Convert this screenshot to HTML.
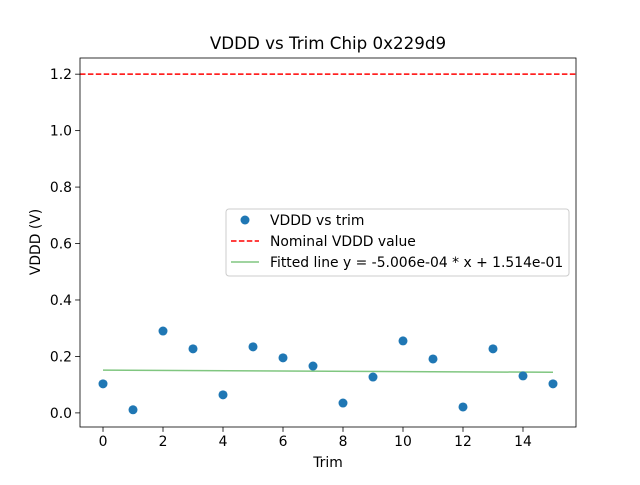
<!DOCTYPE html>
<html><head><meta charset="utf-8"><style>
body{margin:0;background:#fff}
svg text{font-family:"DejaVu Sans","Liberation Sans",sans-serif;fill:#000}
</style></head><body>
<svg id="chart" width="640" height="480"></svg>
<script>
const trims=[0,1,2,3,4,5,6,7,8,9,10,11,12,13,14,15];
const vddd=[0.103,0.011,0.290,0.227,0.064,0.234,0.195,0.166,0.035,0.127,0.255,0.191,0.021,0.227,0.131,0.103];
const nominal=1.2;
const slope=-5.006e-4, intercept=0.1514;
const xTicks=[0,2,4,6,8,10,12,14];
const yTicks=[0.0,0.2,0.4,0.6,0.8,1.0,1.2];
const L=80,R=576,T=58,B=427;
const xmin=-0.767,xmax=15.767,ymin=-0.05,ymax=1.2573;
const sx=v=>L+(v-xmin)/(xmax-xmin)*(R-L);
const sy=v=>B-(v-ymin)/(ymax-ymin)*(B-T);
const svg=document.getElementById('chart');
const NS='http://www.w3.org/2000/svg';
function mk(tag,attrs,parent){const e=document.createElementNS(NS,tag);for(const k in attrs)e.setAttribute(k,attrs[k]);(parent||svg).appendChild(e);return e;}
let t=mk('text',{x:328,y:49,'text-anchor':'middle','font-size':16.7});t.textContent='VDDD vs Trim Chip 0x229d9';


let nl=mk('line',{x1:L,x2:R,y1:sy(nominal),y2:sy(nominal),stroke:'#ff0000','stroke-width':1.5,'stroke-dasharray':'5.5,2.4'});


let fl=mk('line',{x1:sx(trims[0]),x2:sx(trims[trims.length-1]),y1:sy(intercept+slope*trims[0]),y2:sy(intercept+slope*trims[trims.length-1]),stroke:'#2ca02c','stroke-opacity':0.6,'stroke-width':1.5});


trims.forEach((x,i)=>{const c=mk('circle',{cx:sx(x),cy:sy(vddd[i]),r:4.5,fill:'#1f77b4'});

});
let fr=mk('rect',{x:L,y:T,width:R-L,height:B-T,fill:'none',stroke:'#000','stroke-width':0.8});


xTicks.forEach(v=>{mk('line',{x1:sx(v),x2:sx(v),y1:B,y2:B+4.9,stroke:'#000','stroke-width':0.8});
const tx=mk('text',{x:sx(v),y:B+19,'text-anchor':'middle','font-size':13.9});tx.textContent=v;

});
yTicks.forEach(v=>{mk('line',{x1:L-4.9,x2:L,y1:sy(v),y2:sy(v),stroke:'#000','stroke-width':0.8});
const tx=mk('text',{x:L-8,y:sy(v)+5,'text-anchor':'end','font-size':13.9});tx.textContent=v.toFixed(1);

});
let xl=mk('text',{x:328,y:467,'text-anchor':'middle','font-size':13.9});xl.textContent='Trim';


let yl=mk('text',{x:0,y:0,'text-anchor':'middle','font-size':13.9,transform:'translate(40,242) rotate(-90)'});yl.textContent='VDDD (V)';


const lg=mk('g',{});


mk('rect',{x:226,y:209,width:343,height:67,rx:3,fill:'#fff','fill-opacity':0.8,stroke:'#ccc'},lg);
mk('circle',{cx:245,cy:220,r:4.5,fill:'#1f77b4'},lg);
mk('line',{x1:231,x2:259,y1:241,y2:241,stroke:'#ff0000','stroke-width':1.5,'stroke-dasharray':'5.5,2.4'},lg);
mk('line',{x1:231,x2:259,y1:262,y2:262,stroke:'#2ca02c','stroke-opacity':0.6,'stroke-width':1.5},lg);
const labels=['VDDD vs trim','Nominal VDDD value','Fitted line y = -5.006e-04 * x + 1.514e-01'];
labels.forEach((s,i)=>{const e=mk('text',{x:270,y:225+i*21,'font-size':13.9},lg);e.textContent=s;

});
</script>
</body></html>
